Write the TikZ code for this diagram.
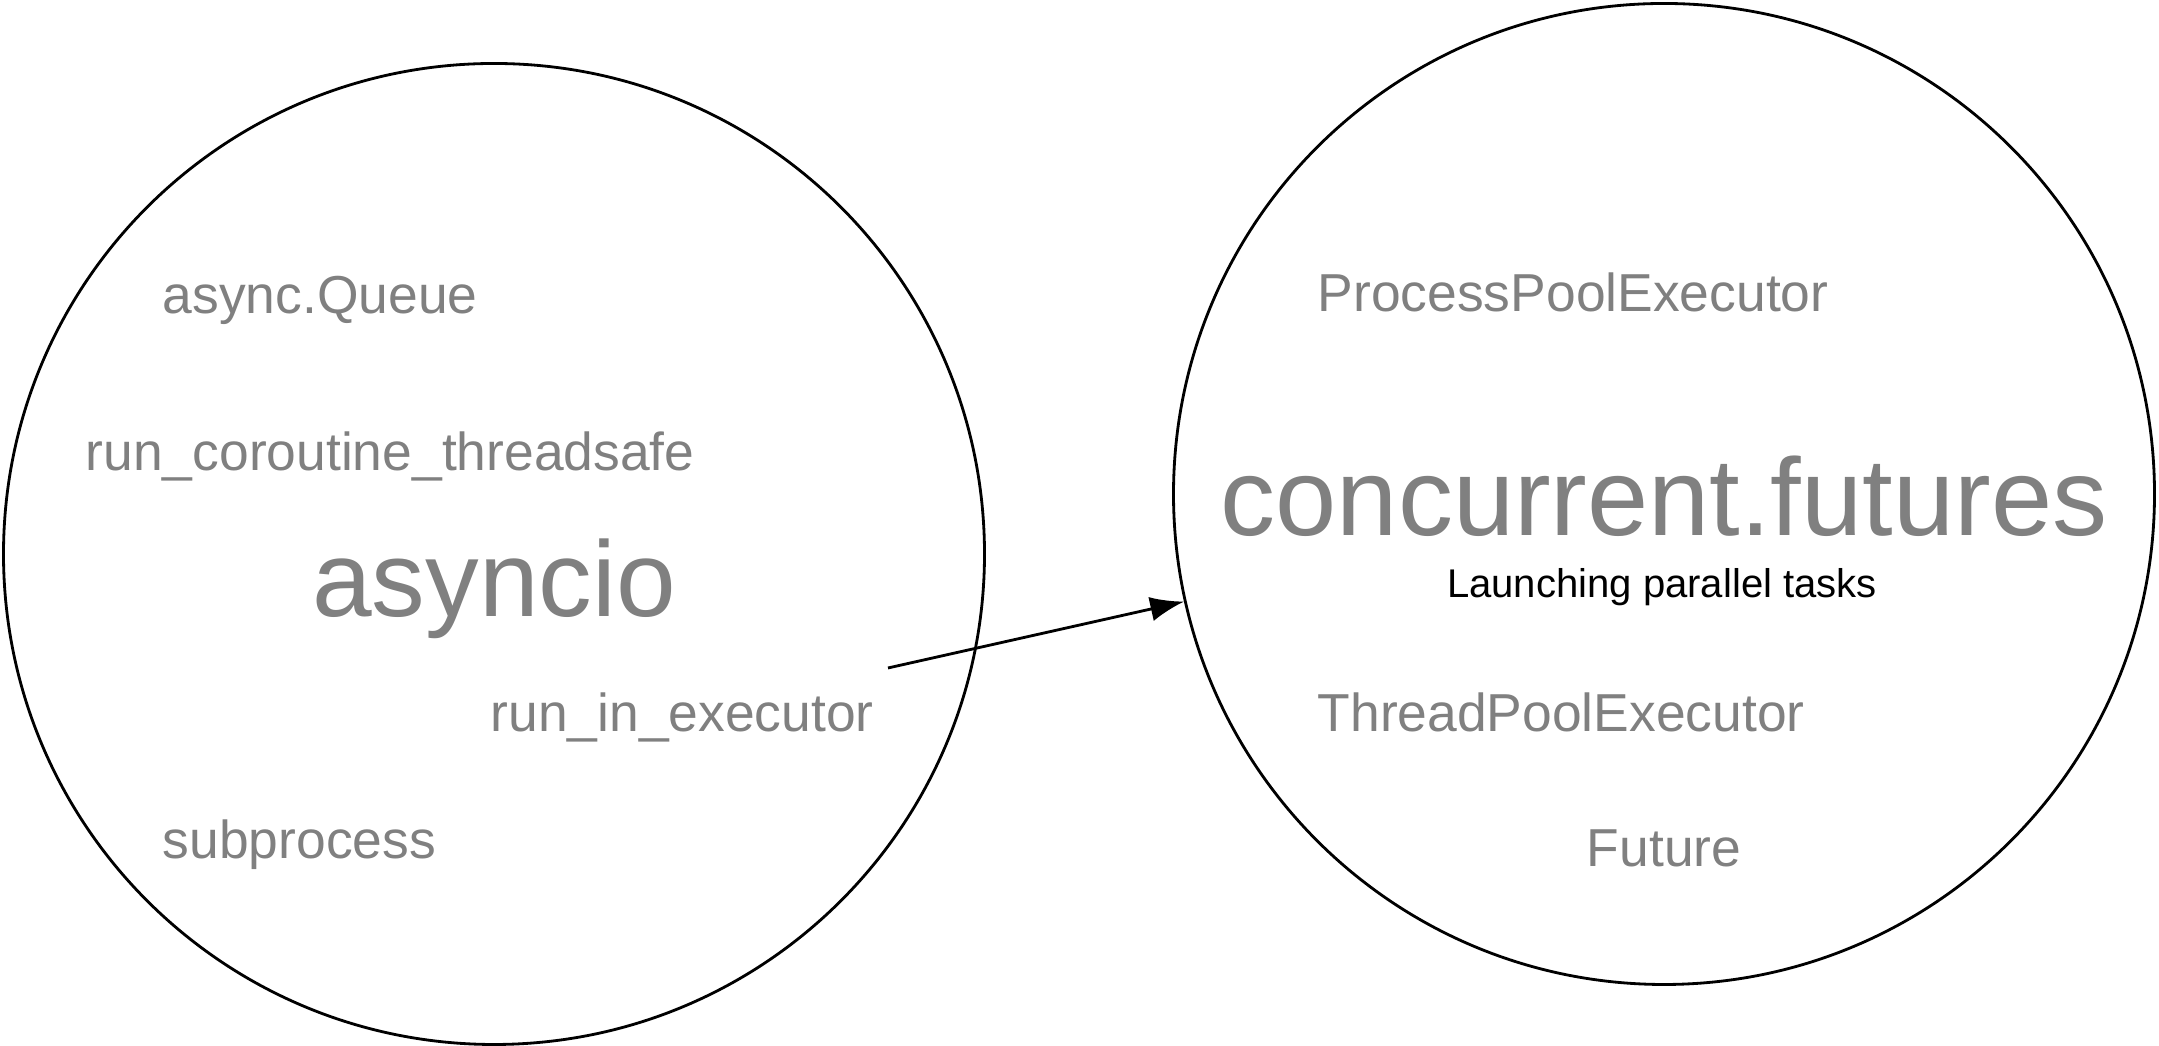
\documentclass[tikz,border=0pt]{standalone}
\usepackage{fontspec}
\setmainfont{Liberation Sans}
\usepackage{tikz}
\usetikzlibrary{arrows.meta}
\definecolor{labelgray}{HTML}{808080}

\begin{document}
\begin{tikzpicture}[
		ring/.style={draw=black, circle, line width=0.8pt, minimum size=9.81cm, inner sep=0pt},
		lbl/.style={text=labelgray, inner sep=0pt, font=\fontsize{15.2}{18}\selectfont},
		title/.style={text=labelgray, inner sep=0pt, anchor=base},
		note/.style={text=black, inner sep=0pt, anchor=base, font=\fontsize{11.4}{14}\selectfont},
		link/.style={draw=black, line width=0.8pt, -{Latex[length=9.6pt, width=7pt]}}
	]
		\useasboundingbox (0.00,0.00) rectangle (21.59,10.46);
		% left circle
		\node[ring] (asyncio) at (4.94,4.92) {};
		\node[lbl, anchor=base west] (queue) at (1.62,7.32) {async.Queue};
		\node[lbl, anchor=base west] (threadsafe) at (0.85,5.75) {run\_coroutine\_threadsafe};
		\node[title, font=\fontsize{30.5}{36}\selectfont] (asynciotitle) at (4.94,4.29) {asyncio};
		\node[lbl, anchor=base west] (inexecutor) at (4.90,3.14) {run\_in\_executor};
		\node[lbl, anchor=base west] (subprocess) at (1.62,1.87) {subprocess};
		% right circle
		\node[ring] (futures) at (16.64,5.52) {};
		\node[lbl, anchor=base west] (processpool) at (13.17,7.34) {ProcessPoolExecutor};
		\node[title, font=\fontsize{31.3}{37}\selectfont] (futurestitle) at (16.64,5.10) {concurrent.futures};
		\node[note] (launching) at (16.62,4.48) {Launching parallel tasks};
		\node[lbl, anchor=base west] (threadpool) at (13.17,3.14) {ThreadPoolExecutor};
		\node[lbl, anchor=base] (future) at (16.64,1.79) {Future};
		% arrow
		\coordinate (start) at (8.88,3.78);
		\draw[link] (start) -- (futures);
	\end{tikzpicture}
\end{document}
